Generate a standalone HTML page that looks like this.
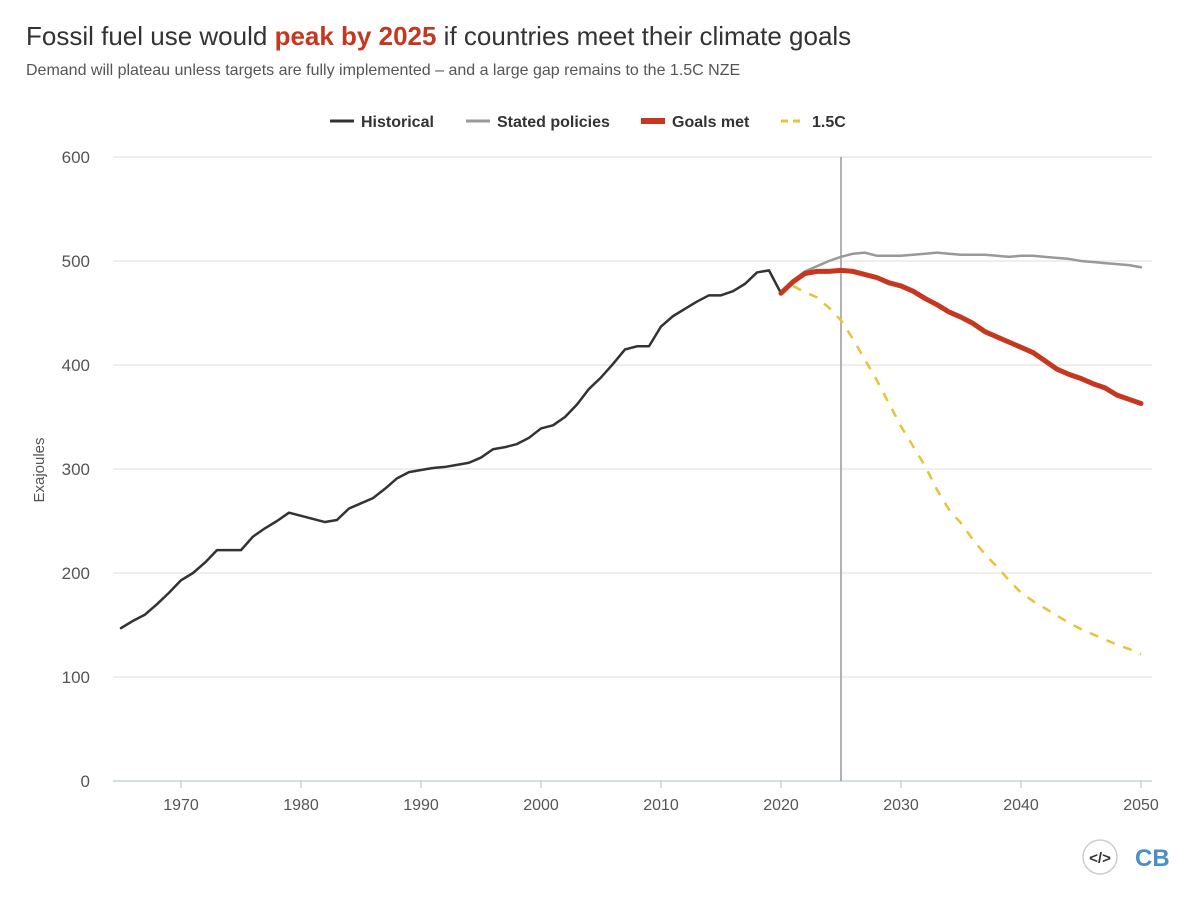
<!DOCTYPE html>
<html><head><meta charset="utf-8"><style>
body{margin:0;background:#fff;font-family:"Liberation Sans","DejaVu Sans",sans-serif;}
#wrap{position:relative;width:1200px;height:911px;overflow:hidden}
</style></head><body><div id="wrap">
<svg id="svg" width="1200" height="911">
<text x="26" y="45" font-size="26" fill="#333">Fossil fuel use would <tspan fill="#c7371f" font-weight="bold">peak by 2025</tspan> if countries meet their climate goals</text>
<text x="26" y="75" font-size="16" fill="#555">Demand will plateau unless targets are fully implemented – and a large gap remains to the 1.5C NZE</text>
<g font-size="16" font-weight="bold" fill="#333">
<g><line x1="330" y1="121" x2="354" y2="121" stroke="#333" stroke-width="3"/><text x="361" y="127">Historical</text></g>
<g><line x1="466" y1="121" x2="490" y2="121" stroke="#999" stroke-width="3"/><text x="497" y="127">Stated policies</text></g>
<g><line x1="641" y1="121" x2="665" y2="121" stroke="#c7371f" stroke-width="6"/><text x="672" y="127">Goals met</text></g>
<g><line x1="781" y1="121" x2="805" y2="121" stroke="#e8c33a" stroke-width="3" stroke-dasharray="7,5"/><text x="812" y="127">1.5C</text></g>
</g>
<text transform="translate(44,470) rotate(-90)" text-anchor="middle" font-size="15" fill="#555">Exajoules</text>
<g id="grid"></g><g id="series"></g>
<g>
<circle cx="1100" cy="857" r="17" fill="#fff" stroke="#ccc" stroke-width="1.5"/>
<text x="1100" y="863" text-anchor="middle" font-size="15" font-weight="bold" fill="#333">&lt;/&gt;</text>
<text x="1135" y="866" font-size="24" font-weight="bold" fill="#4a90c4">CB</text>
</g>
</svg></div>
<script>
const yTicks=[0,100,200,300,400,500,600];
const xTicks=[1970,1980,1990,2000,2010,2020,2030,2040,2050];
const histYears=[1965,1966,1967,1968,1969,1970,1971,1972,1973,1974,1975,1976,1977,1978,1979,1980,1981,1982,1983,1984,1985,1986,1987,1988,1989,1990,1991,1992,1993,1994,1995,1996,1997,1998,1999,2000,2001,2002,2003,2004,2005,2006,2007,2008,2009,2010,2011,2012,2013,2014,2015,2016,2017,2018,2019,2020];
const historical=[147,154,160,170,181,193,200,210,222,222,222,235,243,250,258,255,252,249,251,262,267,272,281,291,297,299,301,302,304,306,311,319,321,324,330,339,342,350,362,377,388,401,415,418,418,437,447,454,461,467,467,471,478,489,491,469];
const projYears=[2020,2021,2022,2023,2024,2025,2026,2027,2028,2029,2030,2031,2032,2033,2034,2035,2036,2037,2038,2039,2040,2041,2042,2043,2044,2045,2046,2047,2048,2049,2050];
const stated=[469,481,490,495,500,504,507,508,505,505,505,506,507,508,507,506,506,506,505,504,505,505,504,503,502,500,499,498,497,496,494];
const goalsMet=[469,480,488,490,490,491,490,487,484,479,476,471,464,458,451,446,440,432,427,422,417,412,404,396,391,387,382,378,371,367,363];
const nzeYears=[2021,2022,2023,2024,2025,2026,2027,2028,2029,2030,2031,2032,2033,2034,2035,2036,2037,2038,2039,2040,2041,2042,2043,2044,2045,2046,2047,2048,2049,2050];
const nze=[476,470,465,455,443,425,405,385,363,341,322,303,280,261,248,232,218,206,193,181,173,166,159,152,146,141,136,131,127,122];
const X=y=>121+(y-1965)*12, Y=v=>781-v*1.04;
const NS="http://www.w3.org/2000/svg";
const grid=document.getElementById('grid'), ser=document.getElementById('series');
function mk(tag,attrs,parent){const e=document.createElementNS(NS,tag);for(const k in attrs)e.setAttribute(k,attrs[k]);parent.appendChild(e);return e;}
yTicks.forEach(v=>{
 if(v>0){const l=mk('line',{x1:113,x2:1152,y1:Y(v),y2:Y(v),stroke:'#e3e3e3','stroke-width':1.3},grid);
 
 }
 const t=mk('text',{x:90,y:Y(v)+6,'text-anchor':'end','font-size':17,fill:'#555'},grid);t.textContent=v;
 
 
});
const ax=mk('line',{x1:113,x2:1152,y1:781,y2:781,stroke:'#c8d2dc','stroke-width':1.5},grid);


xTicks.forEach(v=>{
 const tk=mk('line',{x1:X(v),x2:X(v),y1:781,y2:788,stroke:'#c8d2dc','stroke-width':1.5},grid);
 
 
 const t=mk('text',{x:X(v),y:810,'text-anchor':'middle','font-size':16,fill:'#555'},grid);t.textContent=v;
 
 
});
const vl=mk('line',{x1:X(2025),x2:X(2025),y1:157,y2:781,stroke:'#999','stroke-width':1.5},grid);


function line(xs,vs,style,name){
 const p=mk('polyline',Object.assign({points:xs.map((x,i)=>X(x)+','+Y(vs[i])).join(' '),fill:'none','stroke-linejoin':'round','stroke-linecap':'round'},style),ser);
 
 
}
line(projYears,stated,{stroke:'#999','stroke-width':2.5},'stated-policies-line');
line(nzeYears,nze,{stroke:'#e8c33a','stroke-width':2.5,'stroke-dasharray':'9,9','stroke-linecap':'butt'},'nze-1-5c-line');
line(histYears,historical,{stroke:'#333','stroke-width':2.5},'historical-line');
line(projYears,goalsMet,{stroke:'#c7371f','stroke-width':5},'goals-met-line');
</script></body></html>
